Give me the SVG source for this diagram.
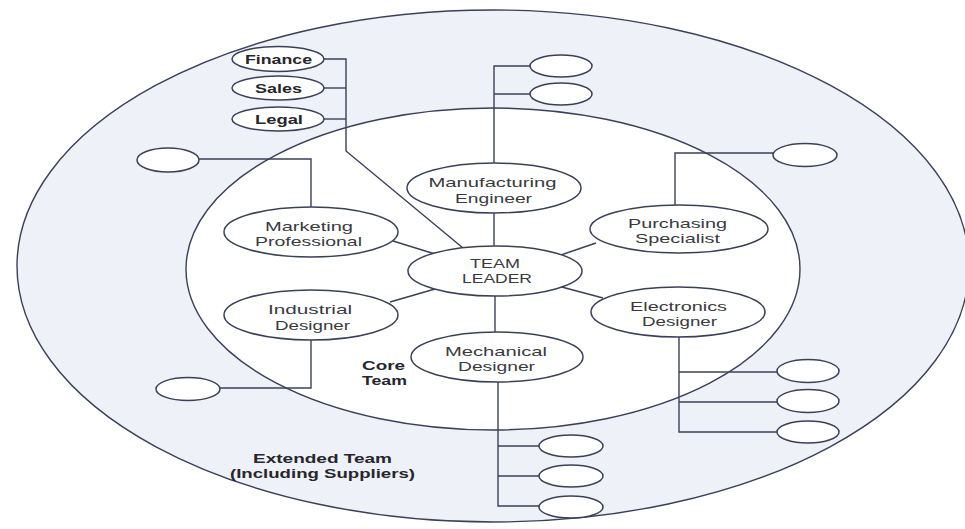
<svg xmlns="http://www.w3.org/2000/svg" width="965" height="529" viewBox="0 0 965 529">
  <style>
    .ring { stroke: #3b4058; stroke-width: 1.4; }
    .node { fill: #ffffff; stroke: #3b4058; stroke-width: 1.5; }
    .link { fill: none; stroke: #3b4058; stroke-width: 1.4; }
    .lbl { font-family: "Liberation Sans", Arial, sans-serif; font-size: 13px; fill: #3a3a40; text-anchor: middle; }
    .bold { font-weight: bold; fill: #26262c; }
    .start { text-anchor: start; }
  </style>
  <rect width="965" height="529" fill="#ffffff"/>

  <!-- extended team ring and core team area -->
  <ellipse id="extended-team" class="ring" cx="493" cy="266" rx="476" ry="256" fill="#eef1f7"/>
  <ellipse id="core-team" class="ring" cx="493" cy="269" rx="307" ry="161" fill="#ffffff"/>

  <!-- connectors -->
  <g id="connectors">
    <!-- support functions to team leader -->
    <polyline class="link" points="324,59 346,59 346,151 463,248"/>
    <line class="link" x1="324" y1="88" x2="346" y2="88"/>
    <line class="link" x1="324" y1="119" x2="346" y2="119"/>
    <!-- core spokes -->
    <line class="link" x1="494" y1="213" x2="494" y2="246"/>
    <line class="link" x1="495" y1="296" x2="495" y2="333"/>
    <line class="link" x1="393" y1="241" x2="435" y2="254"/>
    <line class="link" x1="390" y1="302" x2="435" y2="289"/>
    <line class="link" x1="596" y1="243" x2="558" y2="256"/>
    <line class="link" x1="558" y1="286" x2="603" y2="298"/>
    <!-- manufacturing engineer outward -->
    <polyline class="link" points="494,163 494,66 530,66"/>
    <line class="link" x1="494" y1="94" x2="530" y2="94"/>
    <!-- marketing outward -->
    <polyline class="link" points="199,159 311,159 311,207"/>
    <!-- purchasing outward -->
    <polyline class="link" points="675,205 675,153 773,153"/>
    <!-- industrial outward -->
    <polyline class="link" points="311,340 311,388 220,388"/>
    <!-- electronics outward -->
    <polyline class="link" points="679,337 679,432 777,432"/>
    <line class="link" x1="679" y1="372" x2="777" y2="372"/>
    <line class="link" x1="679" y1="402" x2="777" y2="402"/>
    <!-- mechanical outward -->
    <polyline class="link" points="498,382 498,506 539,506"/>
    <line class="link" x1="498" y1="446" x2="539" y2="446"/>
    <line class="link" x1="498" y1="476" x2="539" y2="476"/>
  </g>

  <!-- support functions -->
  <g id="finance">
    <ellipse class="node" cx="278" cy="59" rx="46" ry="12.5"/>
    <text class="lbl bold" x="278.5" y="64" textLength="67" lengthAdjust="spacingAndGlyphs">Finance</text>
  </g>
  <g id="sales">
    <ellipse class="node" cx="278" cy="88" rx="46" ry="12"/>
    <text class="lbl bold" x="278.5" y="93" textLength="47" lengthAdjust="spacingAndGlyphs">Sales</text>
  </g>
  <g id="legal">
    <ellipse class="node" cx="278" cy="119" rx="46" ry="12"/>
    <text class="lbl bold" x="279" y="124" textLength="48" lengthAdjust="spacingAndGlyphs">Legal</text>
  </g>

  <!-- core team -->
  <g id="manufacturing-engineer">
    <ellipse class="node" cx="494" cy="188" rx="87" ry="25"/>
    <text class="lbl" x="492.5" y="187" textLength="128" lengthAdjust="spacingAndGlyphs">Manufacturing</text>
    <text class="lbl" x="493.5" y="202.5" textLength="77" lengthAdjust="spacingAndGlyphs">Engineer</text>
  </g>
  <g id="marketing-professional">
    <ellipse class="node" cx="311" cy="232" rx="87" ry="25"/>
    <text class="lbl" x="309" y="230.5" textLength="88" lengthAdjust="spacingAndGlyphs">Marketing</text>
    <text class="lbl" x="308.5" y="246" textLength="107" lengthAdjust="spacingAndGlyphs">Professional</text>
  </g>
  <g id="purchasing-specialist">
    <ellipse class="node" cx="679" cy="229" rx="89" ry="24"/>
    <text class="lbl" x="677.5" y="227.5" textLength="99" lengthAdjust="spacingAndGlyphs">Purchasing</text>
    <text class="lbl" x="677.5" y="243" textLength="85" lengthAdjust="spacingAndGlyphs">Specialist</text>
  </g>
  <g id="team-leader">
    <ellipse class="node" cx="495" cy="271" rx="87" ry="25"/>
    <text class="lbl" x="495" y="267.5" textLength="50" lengthAdjust="spacingAndGlyphs">TEAM</text>
    <text class="lbl" x="497" y="283" textLength="70" lengthAdjust="spacingAndGlyphs">LEADER</text>
  </g>
  <g id="industrial-designer">
    <ellipse class="node" cx="311" cy="315" rx="87" ry="25"/>
    <text class="lbl" x="310" y="314" textLength="84" lengthAdjust="spacingAndGlyphs">Industrial</text>
    <text class="lbl" x="312.5" y="329.5" textLength="75" lengthAdjust="spacingAndGlyphs">Designer</text>
  </g>
  <g id="electronics-designer">
    <ellipse class="node" cx="678" cy="312" rx="87" ry="25"/>
    <text class="lbl" x="678.5" y="310.5" textLength="97" lengthAdjust="spacingAndGlyphs">Electronics</text>
    <text class="lbl" x="679.5" y="326" textLength="75" lengthAdjust="spacingAndGlyphs">Designer</text>
  </g>
  <g id="mechanical-designer">
    <ellipse class="node" cx="497" cy="357" rx="86" ry="25"/>
    <text class="lbl" x="496" y="355.5" textLength="102" lengthAdjust="spacingAndGlyphs">Mechanical</text>
    <text class="lbl" x="496.5" y="371" textLength="77" lengthAdjust="spacingAndGlyphs">Designer</text>
  </g>

  <!-- unnamed extended team members -->
  <g id="manufacturing-partner-1"><ellipse class="node" cx="561" cy="66" rx="31" ry="11"/></g>
  <g id="manufacturing-partner-2"><ellipse class="node" cx="561" cy="94" rx="31" ry="11"/></g>
  <g id="marketing-partner"><ellipse class="node" cx="168" cy="160" rx="31" ry="12"/></g>
  <g id="purchasing-partner"><ellipse class="node" cx="805" cy="155" rx="32" ry="11.5"/></g>
  <g id="industrial-partner"><ellipse class="node" cx="188" cy="389" rx="32" ry="11.5"/></g>
  <g id="electronics-partner-1"><ellipse class="node" cx="808" cy="371" rx="31" ry="11.5"/></g>
  <g id="electronics-partner-2"><ellipse class="node" cx="808" cy="401" rx="31" ry="11.5"/></g>
  <g id="electronics-partner-3"><ellipse class="node" cx="808" cy="432" rx="31" ry="11"/></g>
  <g id="mechanical-partner-1"><ellipse class="node" cx="571" cy="446" rx="32" ry="11"/></g>
  <g id="mechanical-partner-2"><ellipse class="node" cx="571" cy="476" rx="32" ry="11"/></g>
  <g id="mechanical-partner-3"><ellipse class="node" cx="571" cy="507" rx="32" ry="11"/></g>

  <!-- ring captions -->
  <g id="core-team-caption">
    <text class="lbl bold start" x="362" y="369.5" textLength="43" lengthAdjust="spacingAndGlyphs">Core</text>
    <text class="lbl bold start" x="362" y="385" textLength="45" lengthAdjust="spacingAndGlyphs">Team</text>
  </g>
  <g id="extended-team-caption">
    <text class="lbl bold" x="322.5" y="462.5" textLength="139" lengthAdjust="spacingAndGlyphs">Extended Team</text>
    <text class="lbl bold" x="322.5" y="478" textLength="185" lengthAdjust="spacingAndGlyphs">(Including Suppliers)</text>
  </g>
</svg>
